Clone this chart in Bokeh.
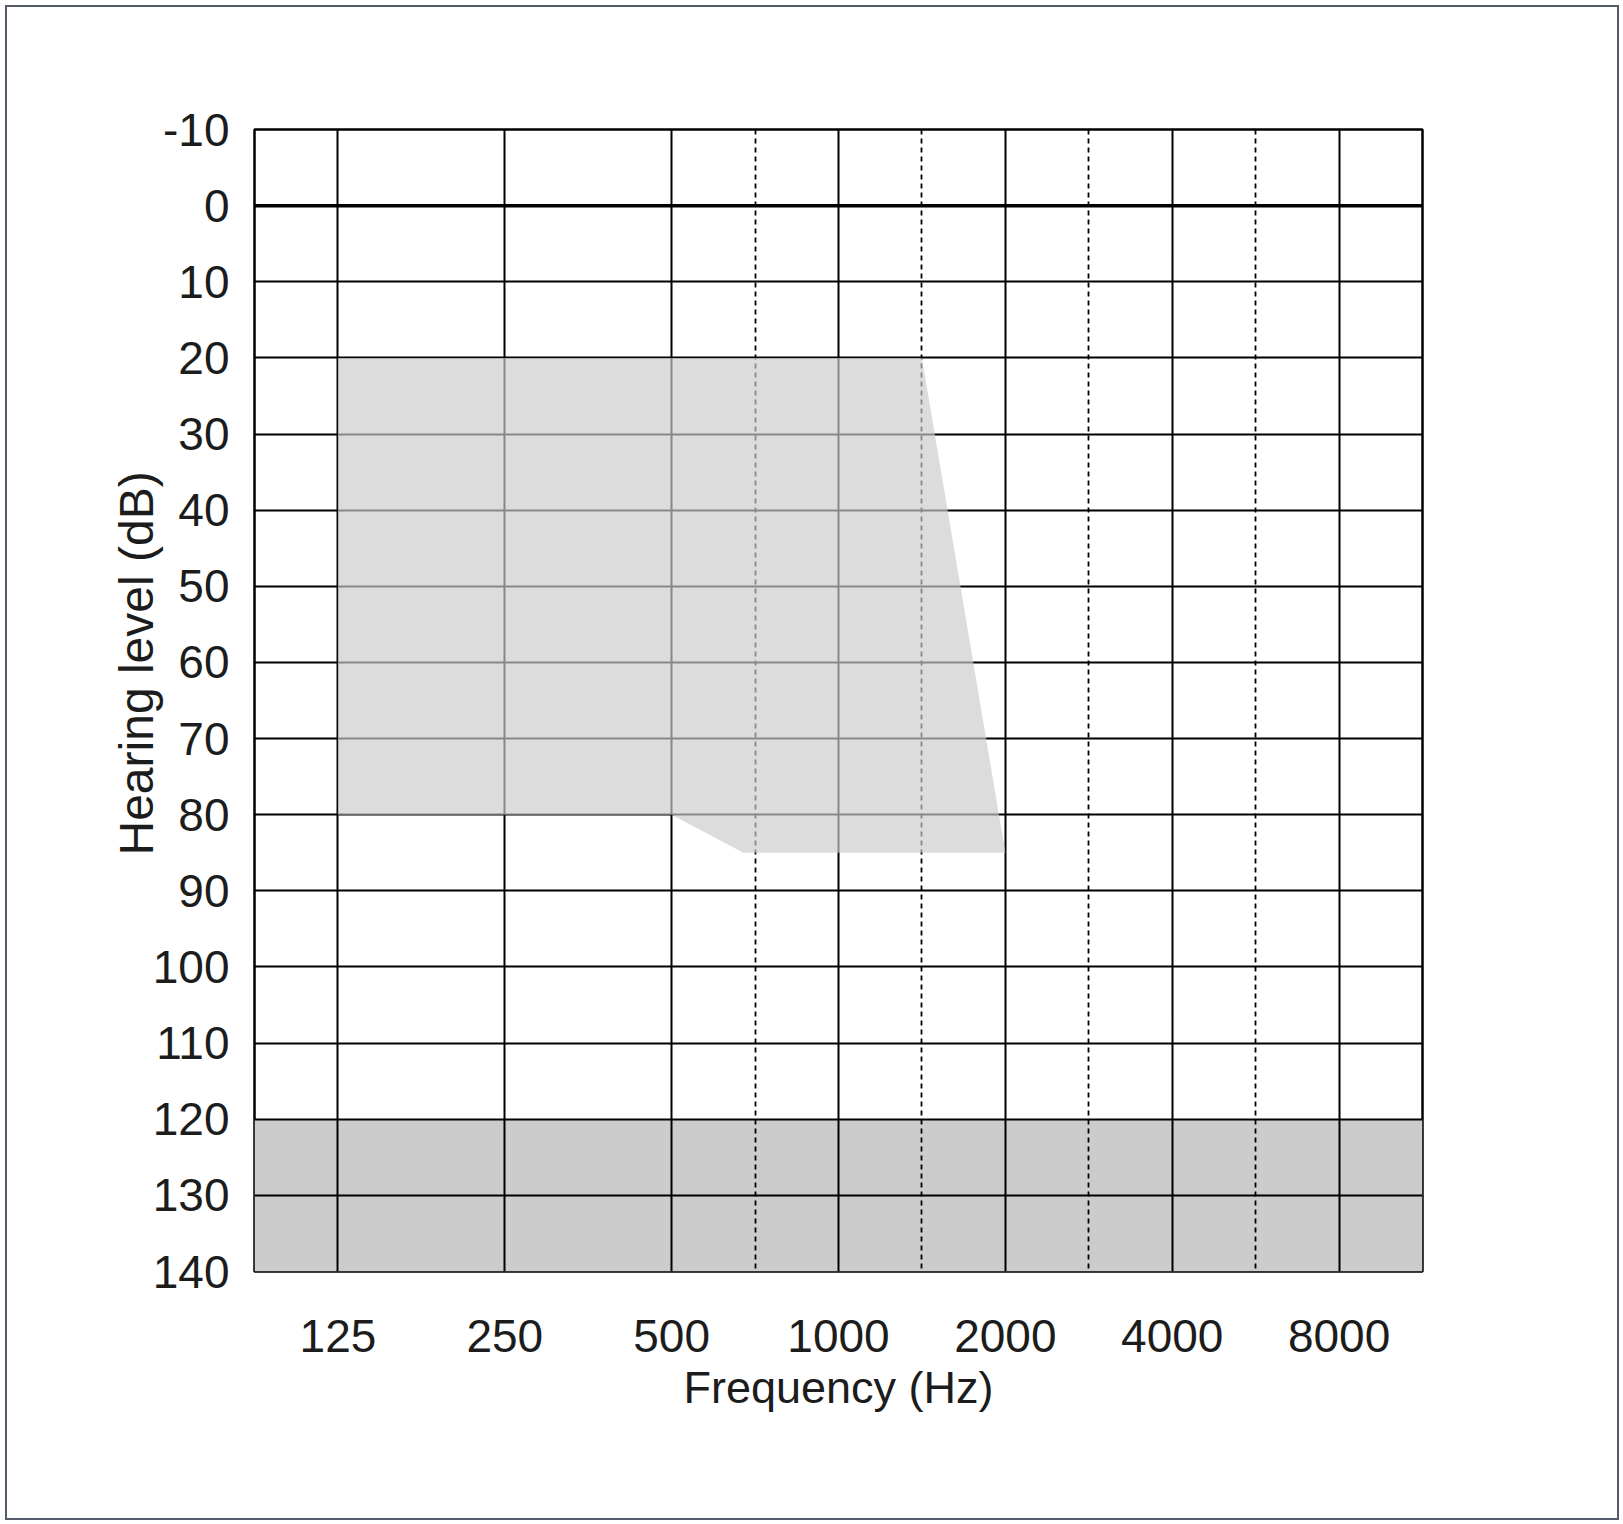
from bokeh.plotting import figure
from bokeh.models import Range1d, FixedTicker, Span, Title
from bokeh.embed import file_html
from bokeh.resources import INLINE

# --- data ---
freq_labels = ["125", "250", "500", "1000", "2000", "4000", "8000"]
octave_pos = [0, 1, 2, 3, 4, 5, 6]             # octaves above 125 Hz
half_octave_pos = [2.5, 3.5, 4.5, 5.5]         # 750, 1500, 3000, 6000 Hz (dashed)
db_ticks = [-10, 0, 10, 20, 30, 40, 50, 60, 70, 80, 90, 100, 110, 120, 130, 140]
db_labels = ["-10", "0", "10", "20", "30", "40", "50", "60", "70", "80", "90",
             "100", "110", "120", "130", "140"]

# shaded region (octave position, dB HL)
region_x = [0, 3.5, 4, 2.43, 2, 0]
region_y = [20, 20, 85, 85, 80, 80]

# out-of-range band
band_top = 120
band_bottom = 140

FONT = "Liberation Sans"
TXT = "#1c1c1c"

p = figure(
    frame_width=1168, frame_height=1142,
    x_range=Range1d(-0.5, 6.5), y_range=Range1d(140, -10),
    output_backend="svg", toolbar_location=None,
    min_border_left=247, min_border_top=122,
    min_border_right=195, min_border_bottom=247,
    background_fill_color="white", border_fill_color="white",
)
p.styles = {"border": "2px solid #565b6b", "margin-left": "5px", "margin-top": "5px"}

# band 120-140 dB under the grid
p.quad(left=-0.5, right=6.5, top=band_top, bottom=band_bottom,
       fill_color="#cccccc", line_color=None, level="image")

# grid
p.xgrid.ticker = FixedTicker(ticks=octave_pos, minor_ticks=half_octave_pos)
p.xgrid.grid_line_color = "black"
p.xgrid.grid_line_width = 2
p.xgrid.minor_grid_line_color = "black"
p.xgrid.minor_grid_line_width = 1.8
p.xgrid.minor_grid_line_dash = "5 4"
p.ygrid.ticker = FixedTicker(ticks=db_ticks)
p.ygrid.grid_line_color = "black"
p.ygrid.grid_line_width = 2

# shaded region, semi-transparent over grid
p.patch(region_x, region_y, fill_color="#cbcbcb", fill_alpha=0.67, line_color=None)

# 0 dB reference line
p.add_layout(Span(location=0, dimension="width", line_color="black", line_width=3.5))

p.outline_line_color = "black"
p.outline_line_width = 2.5
p.outline_line_alpha = 1

# axes
p.xaxis.ticker = FixedTicker(ticks=octave_pos)
p.xaxis.major_label_overrides = {i: lab for i, lab in zip(octave_pos, freq_labels)}
p.yaxis.ticker = FixedTicker(ticks=db_ticks)
p.yaxis.major_label_overrides = {v: lab for v, lab in zip(db_ticks, db_labels)}
for ax in (p.xaxis, p.yaxis):
    ax.axis_line_color = None
    ax.major_tick_line_color = None
    ax.minor_tick_line_color = None
    ax.major_label_text_font = FONT
    ax.major_label_text_font_size = "46px"
    ax.major_label_text_color = TXT
    ax.axis_label_text_font = FONT
    ax.axis_label_text_font_style = "normal"
    ax.axis_label_text_color = TXT

p.xaxis.axis_label = "Frequency (Hz)"
p.xaxis.axis_label_text_font_size = "45px"
p.xaxis.major_label_standoff = 42
p.xaxis.axis_label_standoff = 7

p.yaxis.major_label_standoff = 19

# y axis title (slightly above centre, as in the original)
p.add_layout(Title(text="Hearing level (dB)", align="left", offset=416,
                   standoff=-27, text_font=FONT, text_font_size="48px",
                   text_font_style="normal", text_color=TXT), "left")

open("out.html", "w").write(file_html(p, INLINE))
